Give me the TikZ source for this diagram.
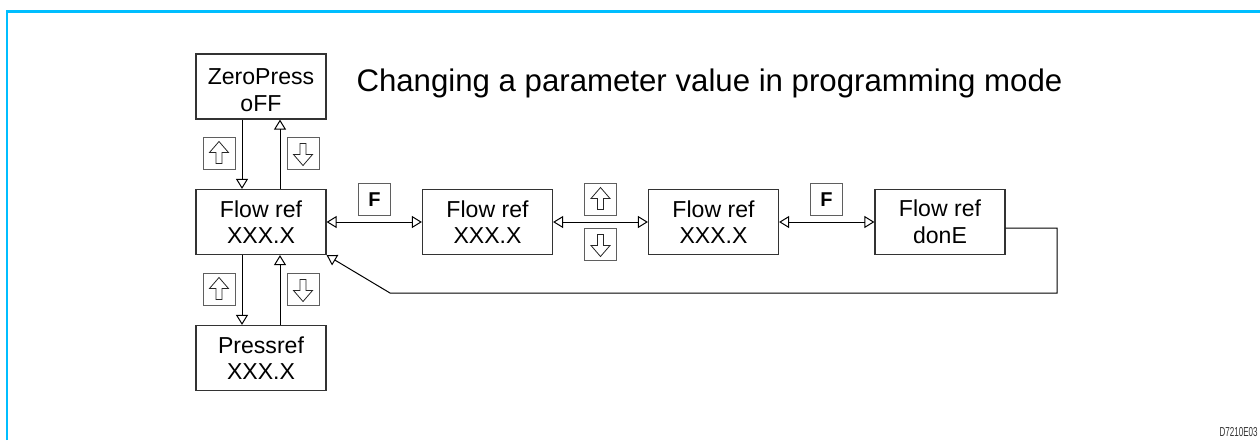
\documentclass[tikz,border=0pt]{standalone}
\usepackage{fontspec}
\setmainfont{Liberation Sans}
\newfontfamily\idfont[FakeStretch=0.62]{Liberation Sans}
\usetikzlibrary{arrows.meta}

\definecolor{framecyan}{RGB}{0,190,255}
\definecolor{keygray}{RGB}{95,95,95}

\tikzset{every picture/.style={line width=0.75pt}}
\tikzset{
  >={Triangle[open, length=7.5pt, width=9pt]},
  display/.style={draw=black!80, line width=0.9pt, minimum width=97.5pt, minimum height=48.75pt, inner sep=0pt, align=center, font=\fontsize{17.3}{20}\selectfont},
  keybox/.style={draw=keygray, line width=0.75pt, minimum size=24pt, inner sep=0pt},
  fkey/.style={keybox, font=\bfseries\fontsize{15}{15}\selectfont},
  glyph/.style={draw=black!85, line width=0.6pt, line join=miter},
  link/.style={draw=black, line width=0.75pt},
  pics/upkey/.style={code={
    \node[keybox] (-box) {};
    \draw[glyph] (0,12) -- (9.5,1) -- (3,1) -- (3,-10) -- (-3,-10) -- (-3,1) -- (-9.5,1) -- cycle;
  }},
  pics/downkey/.style={code={
    \node[keybox] (-box) {};
    \draw[glyph] (0,-12) -- (9.5,-1) -- (3,-1) -- (3,10) -- (-3,10) -- (-3,-1) -- (-9.5,-1) -- cycle;
  }}
}

\begin{document}
\begin{tikzpicture}[x=0.75pt,y=0.75pt,yscale=-1,xscale=1]
	\useasboundingbox (0,0) rectangle (1260,440);
	
	%Shape: Frame
	\draw [color=framecyan, line width=1.9pt]  (7.2,440) -- (7.2,11.3) -- (1260,11.3) ;
	
	% Text Node
	\node [anchor=base west, inner sep=0pt, font=\fontsize{23.4}{26}\selectfont] (title) at (356,91) {Changing a parameter value in programming mode};
	
	%Shape: Display boxes
	\node [display] (zero) at (261,86.5) {\rule{0pt}{17pt}ZeroPress\\oFF};
	\node [display] (flowA) at (261,222) {Flow ref\\XXX.X};
	\node [display] (press) at (261,358) {Pressref\\XXX.X};
	\node [display] (flowB) at (487.5,222) {Flow ref\\XXX.X};
	\node [display] (flowC) at (713.5,222) {Flow ref\\XXX.X};
	\node [display] (done) at (940,222) {Flow ref\\donE};
	
	%Shape: Keys
	\pic (upA) at (219,153.5) {upkey};
	\pic (downA) at (303,153.5) {downkey};
	\pic (upB) at (219,289.5) {upkey};
	\pic (downB) at (303,289.5) {downkey};
	\pic (upC) at (600.5,199.5) {upkey};
	\pic (downC) at (600.5,244.5) {downkey};
	\node [fkey] (fA) at (374.5,199.5) {F};
	\node [fkey] (fB) at (826.5,199.5) {F};
	
	\coordinate (loopR) at (1057,293);
	\coordinate (loopL) at (390,293);
	
	% Connection
	\draw [link,->] ([xshift=-14.25pt]zero.south) -- ([xshift=-14.25pt]flowA.north);
	\draw [link,->] ([xshift=14.25pt]flowA.north) -- ([xshift=14.25pt]zero.south);
	\draw [link,->] ([xshift=-14.25pt]flowA.south) -- ([xshift=-14.25pt]press.north);
	\draw [link,->] ([xshift=14.25pt]press.north) -- ([xshift=14.25pt]flowA.south);
	% Connection
	\draw [link,<->] (flowA.east) -- (flowB.west);
	\draw [link,<->] (flowB.east) -- (flowC.west);
	\draw [link,<->] (flowC.east) -- (done.west);
	% Connection
	\draw [link,->] ([yshift=4.5pt]done.east) -| (loopR) -- (loopL) -- (flowA.south east);
	
	% Text Node
	\node [anchor=base west, inner sep=0pt, font=\idfont\fontsize{9.75}{10}\selectfont, text=black!80] (code) at (1219,436) {D7210E03};
	
\end{tikzpicture}
\end{document}
